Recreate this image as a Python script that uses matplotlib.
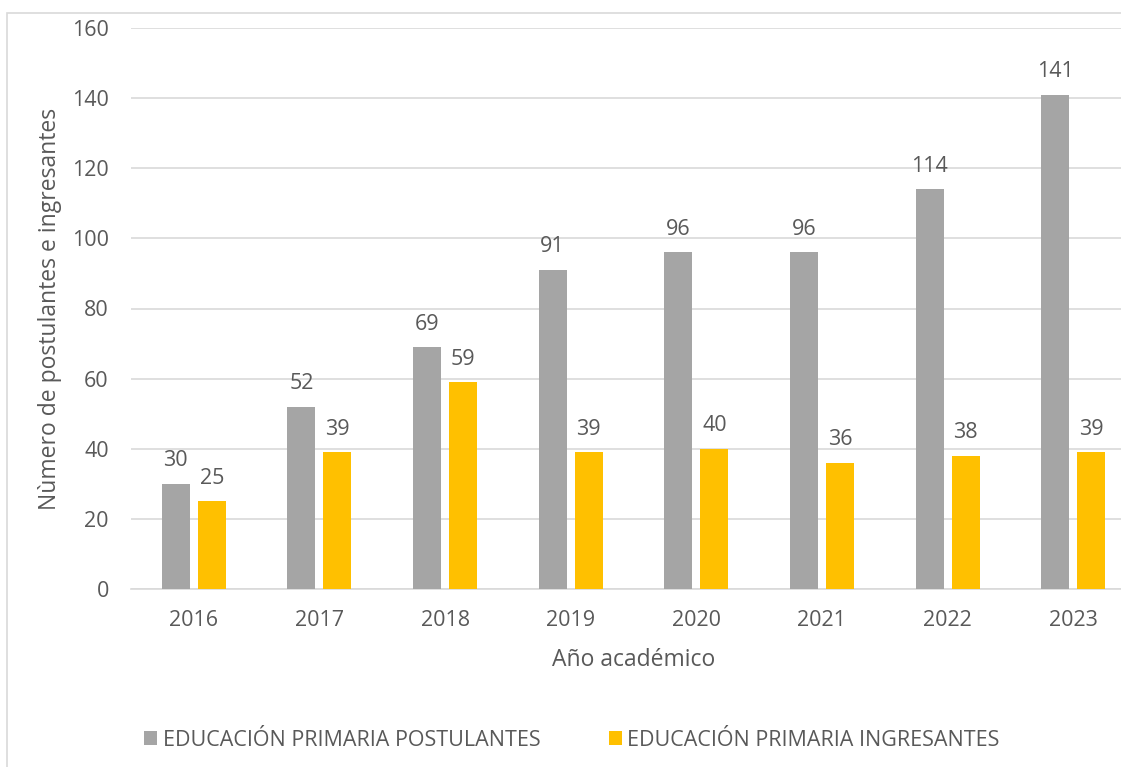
import matplotlib
matplotlib.use("Agg")
import matplotlib.pyplot as plt
import matplotlib.patches as mpatches
import numpy as np

# datos
anios = ["2016", "2017", "2018", "2019", "2020", "2021", "2022", "2023"]
postulantes = [30, 52, 69, 91, 96, 96, 114, 141]
ingresantes = [25, 39, 59, 39, 40, 36, 38, 39]
nombre_post = "EDUCACIÓN PRIMARIA POSTULANTES"
nombre_ing = "EDUCACIÓN PRIMARIA INGRESANTES"

gris = "#A5A5A5"
amarillo = "#FFC000"
texto = "#595959"
linea = "#D9D9D9"

plt.rcParams["font.family"] = ["Open Sans", "DejaVu Sans"]

W, H = 1121, 767
fig = plt.figure(figsize=(W / 100, H / 100), dpi=100)

# borde del area del grafico
fig.patches.append(mpatches.Rectangle((7 / W, -0.1), 1.2, 1.1 - 13 / H,
                                      transform=fig.transFigure, fill=False,
                                      edgecolor=linea, linewidth=1.2))

ax = fig.add_axes([131 / W, 1 - 589 / H, (1136 - 131) / W, (589 - 28) / H])

x = np.arange(len(anios))
ancho = 0.223
desp = 0.1435
b1 = ax.bar(x - desp, postulantes, ancho, color=gris, label=nombre_post, zorder=3)
b2 = ax.bar(x + desp, ingresantes, ancho, color=amarillo, label=nombre_ing, zorder=3)

for barras in (b1, b2):
    for b in barras:
        ax.annotate(str(int(b.get_height())), (b.get_x() + b.get_width() / 2, b.get_height()),
                    xytext=(0, 9), textcoords="offset points", ha="center", va="bottom",
                    fontsize=15.5, color=texto)

ax.set_xlim(-0.5, len(anios) - 0.5)
ax.set_ylim(0, 160)
ax.set_yticks(range(0, 161, 20))
ax.set_xticks(x)
ax.set_xticklabels(anios)
ax.yaxis.grid(True, color=linea, linewidth=1.2, zorder=0)
ax.set_axisbelow(True)
for s in ["top", "right", "left"]:
    ax.spines[s].set_visible(False)
ax.spines["bottom"].set_color(linea)
ax.spines["bottom"].set_linewidth(1.2)
ax.tick_params(axis="both", length=0, labelsize=15.5, labelcolor=texto)
ax.tick_params(axis="x", pad=15)
ax.tick_params(axis="y", pad=16)

ax.set_xlabel("Año académico", fontsize=16.5, color=texto, labelpad=12)
ax.set_ylabel("Nùmero de postulantes e ingresantes", fontsize=16.5, color=texto, labelpad=7)

fig.legend(handles=[b1, b2], loc="center", bbox_to_anchor=(572 / W, 1 - 740 / H),
           ncol=2, frameon=False, fontsize=15.5, labelcolor=texto,
           handlelength=0.6, handleheight=0.6, handletextpad=0.25, columnspacing=3.2)

fig.savefig("out.png", dpi=100)
